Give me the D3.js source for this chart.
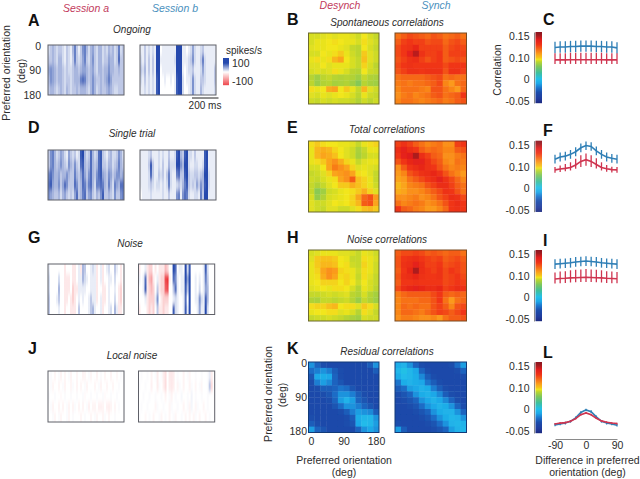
<!DOCTYPE html>
<html><head><meta charset="utf-8">
<script src="https://cdnjs.cloudflare.com/ajax/libs/d3/7.8.5/d3.min.js"></script>
<style>html,body{margin:0;background:#fff}svg{display:block}text{font-family:"Liberation Sans",Arial,sans-serif;fill:#2c2c2c}</style>
</head><body><svg id="c" width="640" height="479"></svg>
<script>
// raster data: rows of orientation bins, columns of time bins, in tens of spikes/s
const ongoingA=[
[2,3,4,3,2,3,3,2,1,3,2,1,4,7,3,1,3,6,7,4,2,4,5,3,2,4,4,2,3,2,4,3,4,2,3,7,2,3],
[3,3,4,3,2,4,4,2,1,3,2,1,3,7,3,2,3,5,7,3,2,4,6,3,2,4,4,2,3,3,5,4,4,2,3,8,3,3],
[5,6,5,4,3,4,4,3,2,3,2,2,3,4,4,3,4,5,5,4,3,4,5,3,2,4,4,3,4,4,6,4,4,3,3,4,3,3],
[4,6,5,4,3,4,4,3,2,3,3,2,3,4,4,4,7,8,7,4,3,4,6,4,3,3,4,3,4,5,7,5,3,3,3,3,3,3],
[3,4,4,3,2,3,4,3,2,4,3,2,3,3,4,3,4,4,4,3,2,4,6,4,2,3,4,3,3,4,5,4,3,2,2,3,3,3]];
const ongoingB=[
[1,1,3,1,2,1,2,1,10,10,0,1,1,1,1,1,1,1,10,10,10,1,1,0,1,2,5,2,1,1,2,3,1,1,1,1,1,1],
[2,1,3,1,3,1,3,1,10,10,1,1,1,1,1,1,1,2,10,10,10,1,1,1,2,3,6,2,1,1,3,7,2,1,1,1,1,1],
[3,2,4,1,3,1,3,1,10,10,0,1,1,1,1,1,1,1,10,10,10,1,0,1,2,2,3,1,1,1,2,5,2,1,1,1,1,3],
[2,1,3,1,2,1,2,1,9,10,0,0,1,0,0,1,0,1,9,10,10,2,0,1,1,2,6,2,1,1,3,3,2,1,1,1,1,3],
[1,1,2,1,2,1,2,1,9,10,0,0,0,0,0,0,0,1,9,10,10,2,0,0,1,2,6,2,1,1,4,2,1,1,1,1,1,2]];
const singleA=[
[3,6,7,4,2,3,5,4,2,1,5,3,2,3,1,2,9,10,4,2,3,8,4,2,3,8,9,3,2,1,3,4,2,2,3,6,4,2],
[3,6,7,4,3,4,6,4,3,2,6,4,3,6,3,2,8,9,4,3,4,8,4,3,4,8,9,3,3,2,4,4,2,3,4,7,4,3],
[7,8,6,4,4,5,3,4,4,6,4,3,3,7,4,3,5,8,5,3,6,8,4,3,6,8,9,5,4,3,6,5,3,4,6,6,4,5],
[8,9,5,4,4,6,3,5,8,6,3,3,3,8,6,3,4,8,7,4,7,8,4,2,7,7,8,7,4,3,7,4,2,7,5,4,8,8],
[6,5,4,3,3,4,2,4,5,3,2,3,2,5,8,3,4,7,8,3,5,6,3,2,4,3,6,9,3,3,4,3,2,6,3,3,6,7]];
const singleB=[
[1,1,1,1,2,3,1,1,1,2,1,2,1,1,3,1,1,2,9,10,4,3,9,10,2,2,1,3,1,1,1,1,9,10,1,1,1,1],
[1,1,1,1,3,9,3,1,1,2,1,3,1,1,4,2,2,2,10,10,6,4,10,10,2,1,1,2,2,1,1,2,9,10,1,1,1,1],
[1,1,1,1,2,8,3,1,1,3,2,3,1,3,7,2,1,1,7,8,3,3,9,10,3,2,2,3,3,2,3,4,10,10,2,1,1,1],
[1,1,1,1,2,3,2,1,2,2,1,2,1,2,7,2,1,1,2,3,2,4,7,9,3,2,3,2,5,3,6,4,9,10,2,1,1,1],
[0,1,1,1,1,2,1,1,1,1,1,2,1,1,3,1,1,1,6,7,1,6,8,7,2,1,1,2,2,1,7,3,10,10,1,1,1,1]];
const noiseA=[
[1,0,0,0,0,0,0,0,-1,0,0,0,-1,-1,0,1,-1,4,3,0,0,1,2,1,-1,0,1,-1,0,1,2,0,0,3,1,0,-1,0],
[2,0,0,0,0,2,0,0,-1,-1,-1,0,-1,-1,0,1,1,4,2,1,0,1,1,1,-1,0,1,-1,0,0,1,1,0,2,0,0,-1,0],
[2,0,0,0,0,4,0,0,-1,-1,-1,0,-2,-1,-1,1,1,1,1,0,0,1,1,1,-1,0,0,-1,-1,0,1,0,0,1,0,-1,-2,0],
[3,0,0,0,1,3,0,0,-1,-1,0,-1,-2,-1,0,1,0,1,0,0,1,3,1,1,-1,0,1,-1,-1,0,1,0,0,2,0,-1,-2,0],
[3,0,0,0,0,1,0,0,-1,0,0,-1,-1,-1,0,3,0,0,0,0,1,3,4,1,0,0,1,-1,0,0,1,2,0,4,1,-1,-1,0]];
const noiseB=[
[-1,0,0,1,-1,-2,-2,0,-1,0,-1,-1,-1,-3,-2,0,0,10,8,0,1,1,0,10,2,9,0,0,0,0,0,0,1,9,2,0,0,0],
[1,0,1,8,-1,-3,-4,-1,0,1,-1,-2,-2,-8,-9,-1,0,8,6,1,0,1,1,10,5,10,0,0,1,0,1,0,1,7,3,0,0,0],
[0,0,1,9,-1,-2,-3,-2,0,3,-1,-2,-2,-7,-8,0,0,3,8,1,0,1,1,9,3,10,0,0,1,0,2,0,1,5,4,0,0,0],
[0,0,0,1,-1,-2,-2,-2,1,6,0,-1,-2,-2,-2,0,0,1,2,1,0,0,1,8,0,10,0,0,1,1,6,2,1,9,4,0,0,0],
[-1,0,0,0,-1,-2,-1,-2,0,3,-1,-1,-2,-1,-1,0,0,9,2,1,0,0,1,9,1,10,0,0,0,1,5,1,1,10,2,0,0,0]];
const localA=[
[0,.2,0,-.4,0,.2,-.5,0,-.4,0,.2,-.5,0,0,-.4,0,0,-.5,-.4,0,.2,-.4,0,0,-.5,0,.2,0,-.4,0,0,-.5,0,0,-.3,0,.2,0],
[0,.2,-.4,0,0,-.4,0,.2,-.5,0,0,-.4,.2,0,-.5,0,-.4,0,.2,-.5,0,0,0,-.4,0,.2,-.5,0,0,-.4,0,0,-.4,0,0,.2,0,0],
[.2,0,0,.2,0,0,-.2,0,.2,0,0,.2,0,0,.2,0,0,.2,-.2,0,0,.2,0,0,.2,0,0,.2,-.2,0,0,.2,0,0,.2,0,0,0],
[0,.2,-.5,0,0,-.5,0,-.5,0,.2,-.5,0,-.5,.2,0,-.5,0,-.5,0,.2,-.6,0,-.5,-.5,0,-.6,-.6,-.5,0,-.6,-.7,-.5,0,-.4,0,.2,0,0],
[0,0,.2,-.4,0,.2,-.4,0,0,.2,-.4,0,.2,0,0,0,-.4,0,.2,0,0,-.4,0,.2,-.4,0,0,-.4,.2,0,-.4,0,0,.2,0,0,0,0]];
const localB=[
[0,.2,0,0,.2,0,-.5,0,.2,-.8,0,.2,-.8,-1.4,0,-.9,-1,-.8,0,.2,0,0,-.5,0,.2,-.4,0,0,.2,0,0,.2,0,0,.2,1,-.8,0],
[.2,0,0,.2,0,0,-.6,0,0,-.8,.2,0,-.7,-1.5,0,-.8,-1,-.7,0,-.5,.2,0,-.5,0,0,-.5,.2,0,-.4,0,.2,-.4,0,0,.2,3,-1.6,0],
[0,0,.2,0,0,.2,0,0,.2,0,0,.2,0,-.5,0,.2,-.5,0,.2,0,0,.4,0,0,.2,0,.6,0,.2,0,0,.2,0,0,.2,0,0,0],
[0,.2,0,0,.2,0,0,0,-.4,.2,0,0,.2,0,0,-.4,.2,0,0,.2,0,0,-.5,0,.2,-.5,.5,0,-.4,.2,0,0,-.4,0,.2,0,0,0],
[.2,0,0,-.3,0,.2,0,-.4,0,0,.2,-.4,0,.2,0,-.4,0,.2,-.4,0,0,.2,0,-.4,0,-.4,0,-.4,.2,0,-.4,0,0,-.4,0,.2,0,0]];

// correlation matrices, in thousandths
const sponDes=[
[88,88,90,92,90,92,92,90,86,94,88,84],[88,92,92,94,96,94,92,92,88,96,90,86],[90,92,92,94,94,92,90,84,82,94,88,84],
[88,88,94,92,96,100,92,86,82,100,90,86],[92,96,92,96,104,108,94,88,84,102,90,86],[90,90,94,90,92,92,92,88,84,98,88,82],
[88,90,88,90,96,92,88,82,80,94,86,84],[80,72,82,84,80,78,80,78,72,84,78,76],[82,70,78,80,74,76,78,72,62,80,74,72],
[96,92,94,106,108,94,100,92,84,104,90,86],[90,88,92,90,92,94,92,88,82,92,86,84],[86,84,88,86,88,86,86,84,78,86,82,86]];
const sponSyn=[
[118,122,126,124,122,120,124,122,118,120,122,118],[122,128,130,128,128,124,126,126,120,124,126,122],[126,130,132,136,128,128,128,128,122,126,128,126],
[126,130,138,148,132,128,128,130,122,128,128,128],[124,128,132,134,128,124,128,130,122,124,126,124],[126,130,132,130,130,130,130,130,126,130,130,130],
[124,128,132,132,130,132,132,132,124,132,132,128],[118,120,120,120,120,122,124,126,118,120,118,118],[116,118,116,118,118,120,122,126,114,110,118,120],
[114,118,118,118,116,114,124,124,118,114,110,120],[112,116,118,114,116,118,122,124,118,120,122,130],[114,118,118,116,114,116,118,120,116,118,122,124]];
const totalDes=[
[96,100,96,94,94,92,92,90,84,92,96,98],[92,104,106,104,98,94,90,86,76,84,92,92],[92,104,108,106,102,94,90,86,74,82,88,88],
[92,96,100,108,112,106,98,92,84,90,92,92],[88,88,94,108,116,112,108,98,90,92,90,88],[84,86,90,98,108,110,112,108,96,94,90,84],
[86,84,88,92,96,108,112,122,102,98,92,84],[84,78,84,90,94,100,100,106,102,98,92,86],[84,64,72,86,88,92,94,96,100,106,98,90],
[88,68,78,88,90,92,94,98,108,120,124,110],[90,86,86,90,94,92,94,98,104,122,124,108],[90,86,84,90,90,86,86,90,96,102,104,100]];
const totalSyn=[
[128,132,128,122,118,114,116,118,112,112,128,130],[134,138,134,130,122,118,120,118,114,114,122,124],[130,138,142,150,134,128,122,120,112,112,116,118],
[124,130,136,140,138,132,126,122,114,112,118,116],[112,122,130,134,136,132,130,124,118,114,116,114],[110,114,124,128,132,134,136,132,124,118,114,110],
[108,110,118,122,126,130,134,140,132,126,120,114],[104,108,114,116,118,124,128,134,134,128,122,118],[106,108,112,112,114,118,122,126,132,130,124,118],
[112,112,114,116,112,114,118,124,128,134,132,126],[118,114,116,118,116,112,114,118,124,130,134,130],[130,122,120,116,114,110,110,114,120,130,132,130]];
const noiseDes=[
[88,90,92,92,92,90,90,88,84,92,90,86],[90,100,102,102,100,94,92,84,84,96,92,88],[92,100,104,104,102,94,96,86,84,98,92,86],
[92,98,108,112,110,98,96,92,86,96,92,86],[92,96,106,112,108,96,98,92,84,96,90,84],[92,94,98,98,98,94,98,94,86,94,88,84],
[90,92,94,92,96,96,94,88,80,92,88,82],[84,84,86,88,86,88,90,82,78,88,80,74],[78,76,84,84,82,84,86,80,70,84,78,72],
[96,98,98,102,104,94,96,96,90,100,96,88],[92,94,94,96,96,90,92,88,80,96,90,84],[84,86,86,88,86,84,80,76,72,88,86,86]];
const noiseSyn=[
[122,126,126,128,126,122,124,122,120,122,122,118],[124,130,132,134,130,128,126,128,122,124,126,122],[124,132,134,138,134,128,128,130,124,126,128,124],
[122,130,136,150,134,130,128,132,126,130,128,124],[124,132,134,136,132,130,130,132,126,128,130,126],[122,130,130,132,130,130,130,130,126,128,130,128],
[126,134,136,138,136,134,134,136,128,130,134,132],[116,120,122,122,122,122,126,130,122,120,122,120],[114,118,118,118,120,120,124,130,118,110,118,120],
[114,120,118,120,118,118,124,128,122,114,124,126],[114,120,120,118,116,120,124,128,126,122,126,130],[112,116,116,114,112,112,114,110,118,122,122,124]];
const residDes=[
[-14,-24,-30,-32,-32,-32,-32,-32,-32,-32,-26,-14],[-22,-18,-14,-18,-26,-30,-32,-32,-32,-32,-32,-26],[-28,-10,-8,-10,-24,-30,-32,-32,-32,-32,-32,-32],
[-30,-18,-12,-16,-24,-28,-32,-32,-32,-32,-32,-32],[-32,-30,-26,-26,-24,-20,-22,-28,-32,-32,-32,-32],[-32,-32,-30,-28,-22,-14,-14,-18,-26,-30,-32,-32],
[-32,-32,-32,-30,-24,-12,-6,-12,-24,-28,-32,-32],[-32,-32,-32,-32,-28,-22,-14,-14,-18,-24,-28,-32],[-32,-32,-32,-32,-32,-30,-26,-18,-12,-14,-16,-26],
[-30,-32,-32,-32,-32,-32,-30,-26,-8,-4,-4,-14],[-26,-30,-32,-32,-32,-32,-30,-28,-10,-2,-4,-12],[-12,-24,-28,-32,-32,-32,-32,-32,-24,-14,-10,-14]];
const residSyn=[
[-8,-6,-14,-24,-30,-32,-32,-32,-32,-30,-22,-12],[-4,2,-4,-10,-24,-30,-32,-32,-32,-32,-30,-24],[-8,-2,-4,-8,-16,-26,-30,-32,-32,-32,-32,-30],
[-20,-8,-6,-8,-10,-20,-26,-30,-32,-32,-32,-32],[-26,-22,-12,-10,-6,-8,-18,-26,-30,-32,-32,-32],[-30,-28,-24,-14,-8,-6,-10,-16,-26,-30,-32,-32],
[-32,-30,-28,-24,-14,-10,-6,-10,-16,-24,-30,-32],[-32,-32,-30,-28,-22,-14,-10,-6,-8,-14,-24,-30],[-32,-32,-32,-30,-28,-24,-14,-8,-6,-6,-14,-24],
[-32,-32,-32,-32,-30,-28,-22,-14,-8,-4,-6,-14],[-30,-32,-32,-32,-32,-30,-28,-22,-14,-6,-4,-6],[-12,-26,-32,-32,-32,-32,-30,-28,-24,-12,-6,-4]];

// tuning curves: mean correlation by orientation difference
const diffDeg=[-90,-75,-60,-45,-30,-15,0,15,30,45,60,75,90];
const sponBlue=[.124,.125,.125,.126,.126,.127,.127,.127,.126,.126,.125,.125,.123];
const sponRed=[.091,.091,.091,.092,.092,.092,.092,.092,.092,.092,.091,.091,.091];
const totalBlue=[.117,.122,.124,.128,.134,.143,.148,.146,.136,.128,.122,.119,.117];
const totalRed=[.085,.089,.092,.096,.104,.112,.116,.112,.105,.096,.090,.086,.085];
const noiseBlue=[.127,.128,.129,.130,.132,.133,.134,.133,.132,.130,.129,.128,.127];
const noiseRed=[.086,.088,.089,.091,.092,.093,.094,.093,.092,.091,.089,.088,.087];
const residBlue=[-.036,-.034,-.032,-.028,-.02,-.008,-.002,-.006,-.018,-.028,-.032,-.034,-.037];
const residRed=[-.034,-.032,-.031,-.028,-.022,-.013,-.009,-.013,-.021,-.027,-.03,-.032,-.033];
const errBars={spon:[.013,.02],total:[.01,.014],noise:[.011,.022],resid:[.003,.002]};

const corrTicks=[0.15,0.10,0,-0.05];
const corrLabels=["0.15","0.10","0","-0.05"];
const rasterStops=[-100,0,100];
const oriTicks=[0,90,180];

const svg=d3.select("#c");
const defs=svg.append("defs");
const BLUE="#2f7fb6",RED="#cf3550";
const rasterColor=d3.scaleLinear().domain(rasterStops).range(["#ea1a20","#ffffff","#2549ad"]).clamp(true);
const corrColor=d3.scaleLinear()
 .domain([-.055,-.045,-.03,-.02,-.01,0,.03,.06,.082,.094,.11,.13,.142,.152,.16])
 .range(["#1d2a80","#1f3a9c","#1b4dac","#1b74cc","#1ea8e8","#22c0ea","#3fbf9a","#7fc75a","#bcd52e","#f2e61a","#fb9a1a","#f03516","#e01c1c","#a01a1e","#8a1420"]).clamp(true);

const blur=defs.append("filter").attr("id","fr").attr("x","-10%").attr("y","-20%").attr("width","120%").attr("height","140%");
blur.append("feGaussianBlur").attr("stdDeviation","0.5 2.8");
const blurM=defs.append("filter").attr("id","fm").attr("x","-10%").attr("y","-10%").attr("width","120%").attr("height","120%");
blurM.append("feGaussianBlur").attr("stdDeviation","0.55");

let clipN=0;
function heat(x0,x1,y0,y1,data,color,filt,pad,stroke){
 const id="cl"+(clipN++);
 defs.append("clipPath").attr("id",id).append("rect").attr("x",x0).attr("y",y0).attr("width",x1-x0).attr("height",y1-y0);
 const xs=d3.scaleBand().domain(d3.range(data[0].length)).range([x0,x1]);
 const ys=d3.scaleBand().domain(d3.range(data.length)).range([y0,y1]);
 const g=svg.append("g").attr("clip-path",`url(#${id})`).append("g").attr("filter",`url(#${filt})`);
 data.forEach((row,r)=>{
  g.selectAll(null).data(row).join("rect")
   .attr("x",(d,c)=>xs(c)-(c===0?pad:0))
   .attr("width",(d,c)=>xs.bandwidth()+(c===0||c===row.length-1?pad:0)+.4)
   .attr("y",ys(r)-(r===0?pad:0))
   .attr("height",ys.bandwidth()+(r===0||r===data.length-1?pad:0)+.4)
   .attr("fill",d=>color(d));
 });
 svg.append("rect").attr("x",x0).attr("y",y0).attr("width",x1-x0).attr("height",y1-y0)
  .attr("fill","none").attr("stroke",stroke).attr("stroke-width",1);
}
const tens=m=>m.map(r=>r.map(v=>v*10));
const milli=m=>m.map(r=>r.map(v=>v/1000));

function txt(x,y,s,o={}){
 const t=svg.append("text").attr("x",x).attr("y",y).attr("dy","0.35em").text(s)
  .attr("font-size",o.size||10.5).attr("text-anchor",o.anchor||"middle");
 if(o.italic)t.attr("font-style","italic");
 if(o.bold)t.attr("font-weight","bold");
 if(o.color)t.style("fill",o.color);
 if(o.rot)t.attr("transform",`rotate(-90 ${x} ${y})`);
 return t;
}

// Rasters
[[45,95,ongoingA,ongoingB,140,216],[150,200,singleA,singleB,140,216],[264,314.5,noiseA,noiseB,138.5,214.7],[371,422,localA,localB,138.5,214.7]]
.forEach(([y0,y1,a,b,bx0,bx1])=>{
 heat(48,124,y0,y1,tens(a),rasterColor,"fr",8,"#5f6068");
 heat(bx0,bx1,y0,y1,tens(b),rasterColor,"fr",8,"#5f6068");
});

// Matrices
[[33,104,sponDes,sponSyn,"#6d6a2e","#7a4a20"],[141,212,totalDes,totalSyn,"#6d6a2e","#7a2a20"],[250,321,noiseDes,noiseSyn,"#6d6a2e","#7a4a20"],[362,432.5,residDes,residSyn,"#123a78","#123a78"]]
.forEach(([y0,y1,a,b,sa,sb])=>{
 heat(308.5,379,y0,y1,milli(a),corrColor,"fm",6,sa);
 heat(395,466.5,y0,y1,milli(b),corrColor,"fm",6,sb);
});

// Colour bars and tuning curves
const xDiff=d3.scaleLinear().domain([-90,90]).range([555,617]);
const font='"Liberation Sans",Arial,sans-serif';
function panel(top,blue,red,err){
 const y=d3.scaleLinear().domain([.16,.15,.10,0,-.05,-.055]).range([top,top+4,top+26,top+47,top+69,top+71]);
 const barX=535.5,barW=6.5;
 svg.append("g").selectAll("rect").data(d3.range(0,71)).join("rect")
  .attr("x",barX).attr("width",barW).attr("y",d=>top+d).attr("height",1.2)
  .attr("fill",d=>corrColor(y.invert(top+d+.5)));
 const ax=d3.axisLeft(y).tickValues(corrTicks).tickSize(0).tickPadding(4.5).tickFormat((d,i)=>corrLabels[i]);
 const g=svg.append("g").attr("transform","translate(534,0)").call(ax);
 g.select(".domain").attr("stroke","#8a8a8a").attr("stroke-width",1);
 g.selectAll("text").attr("font-size",10.5).attr("font-family",font);
 const line=d3.line().x((d,i)=>xDiff(diffDeg[i])).y(d=>y(d));
 [[blue,BLUE,err[0]],[red,RED,err[1]]].forEach(([s,c,e])=>{
  svg.append("path").attr("d",line(s)).attr("fill","none").attr("stroke",c).attr("stroke-width",1.6);
  svg.append("g").selectAll("line").data(s).join("line")
   .attr("x1",(d,i)=>xDiff(diffDeg[i])).attr("x2",(d,i)=>xDiff(diffDeg[i]))
   .attr("y1",d=>y(d+e)).attr("y2",d=>y(d-e)).attr("stroke",c).attr("stroke-width",1.3);
 });
}
panel(32,sponBlue,sponRed,errBars.spon);
panel(140.7,totalBlue,totalRed,errBars.total);
panel(250,noiseBlue,noiseRed,errBars.noise);
panel(362,residBlue,residRed,errBars.resid);

// L x axis
const lAx=svg.append("g").attr("transform","translate(0,439)").call(d3.axisBottom(xDiff).tickValues([-90,0,90]).tickSize(0).tickPadding(3).tickFormat(String));
lAx.select(".domain").attr("stroke","#8a8a8a");
lAx.selectAll("text").attr("font-size",10.5).attr("font-family",font);

// Left orientation axis (A)
const yA=d3.scaleLinear().domain([0,180]).range([46,95]);
const aAx=svg.append("g").attr("transform","translate(43,0)").call(d3.axisLeft(yA).tickValues(oriTicks).tickSize(0).tickPadding(2));
aAx.select(".domain").remove();
aAx.selectAll("text").attr("font-size",10.5).attr("font-family",font);
// K axes
const yK=d3.scaleLinear().domain([0,180]).range([363,431]);
const kY=svg.append("g").attr("transform","translate(309,0)").call(d3.axisLeft(yK).tickValues(oriTicks).tickSize(0).tickPadding(2));
kY.select(".domain").remove();
kY.selectAll("text").attr("font-size",10.5).attr("font-family",font);
const xK=d3.scaleLinear().domain([0,180]).range([311,376]);
const kX=svg.append("g").attr("transform","translate(0,435)").call(d3.axisBottom(xK).tickValues(oriTicks).tickSize(0).tickPadding(3));
kX.select(".domain").remove();
kX.selectAll("text").attr("font-size",10.5).attr("font-family",font);

// Raster legend
const yLeg=d3.scaleLinear().domain([100,-100]).range([63,81]);
svg.append("g").selectAll("rect").data(d3.range(58,85)).join("rect")
 .attr("x",223).attr("width",6).attr("y",d=>d).attr("height",1.2)
 .attr("fill",d=>{const v=yLeg.invert(d+.5);return rasterColor(v<0?v*.55:v);});
const leg=svg.append("g").attr("transform","translate(232,0)").call(d3.axisRight(yLeg).tickValues([100,-100]).tickSize(0).tickPadding(0).tickFormat(String));
leg.select(".domain").remove();
leg.selectAll("text").attr("font-size",10.5).attr("font-family",font);
txt(244,50,"spikes/s",{size:10});
svg.append("line").attr("x1",192).attr("x2",218.5).attr("y1",98).attr("y2",98).attr("stroke","#222").attr("stroke-width",1);
txt(205,105,"200 ms",{size:10});

// Text
txt(86,8,"Session a",{italic:1,color:"#c23a5c",size:10.5});
txt(175,8,"Session b",{italic:1,color:"#4a90bd",size:10.5});
txt(340,5.5,"Desynch",{italic:1,color:"#c23a5c",size:10.5});
txt(436,5.5,"Synch",{italic:1,color:"#4a90bd",size:10.5});
[["Ongoing",132,29],["Single trial",132,133],["Noise",130,243.5],["Local noise",132,355],
 ["Spontaneous correlations",387,22],["Total correlations",387,129.5],["Noise correlations",387,239.5],["Residual correlations",387,351]]
 .forEach(([s,x,y])=>txt(x,y,s,{italic:1,size:10}));
[["A",28,20],["D",28,127],["G",28,237],["J",28,348],["B",287,19.5],["E",287,127],["H",287,237],["K",287,348],
 ["C",543,19.5],["F",543,130],["I",543,240],["L",543,352]]
 .forEach(([s,x,y])=>txt(x,y,s,{bold:1,size:16,anchor:"start",color:"#111"}));
txt(6,73,"Preferred orientation",{rot:1,size:10.5});
txt(21,71,"(deg)",{rot:1,size:10.5});
txt(497,70,"Correlation",{rot:1,size:10.5});
txt(268,394,"Preferred orientation",{rot:1,size:10.5});
txt(282,395,"(deg)",{rot:1,size:10.5});
txt(344,460,"Preferred orientation",{size:10.5});
txt(344,472,"(deg)",{size:10.5});
txt(587.5,460,"Difference in preferred",{size:10.5});
txt(587.5,472,"orientation (deg)",{size:10.5});
</script></body></html>
